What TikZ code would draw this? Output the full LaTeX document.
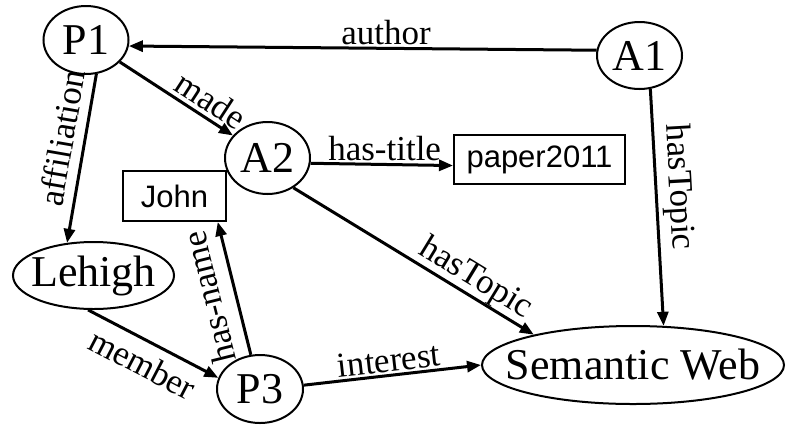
\documentclass[tikz,border=0pt]{standalone}
\usepackage{fontspec}
\setmainfont{Liberation Serif}
\newfontfamily\boxfont{Liberation Sans}
\usetikzlibrary{shapes.geometric,arrows.meta}

\begin{document}
\begin{tikzpicture}[x=1pt,y=1pt,
  ent/.style={draw,ellipse,line width=2pt,inner sep=0pt,inner xsep=-40pt,font=\fontsize{44}{44}\selectfont},
  lit/.style={draw,rectangle,line width=2pt,inner sep=0pt,minimum height=49pt,font=\boxfont\fontsize{31}{31}\selectfont},
  rel/.style={line width=3pt,-{Triangle[length=14pt,width=11pt]}},
  lbl/.style={font=\fontsize{35}{35}\selectfont,inner sep=2pt}]
\useasboundingbox (0,0) rectangle (786,-424);

% resources
\node[ent,minimum width=85pt,minimum height=68pt]  (p1)     at (86,-40)    {P1};
\node[ent,minimum width=85pt,minimum height=67pt]  (a1)     at (639.5,-55.5) {A1};
\node[ent,minimum width=85pt,minimum height=72pt]  (a2)     at (267.5,-158) {A2};
\node[ent,minimum width=161pt,minimum height=67pt] (lehigh) at (93.5,-275.5) {Lehigh};
\node[ent,minimum width=86pt,minimum height=68pt]  (p3)     at (260,-389)  {P3};
\node[ent,minimum width=302pt,minimum height=78pt] (sw)     at (633,-365)  {Semantic Web};

% literals
\node[lit,minimum width=103pt,minimum height=50pt] (john)  at (174.5,-196) {John};
\node[lit,minimum width=171pt]                     (paper) at (539.5,-159.5) {paper2011};

% properties
\draw[rel] (a1.173) -- (p1.-8) node[lbl,pos=.45,above] {author};
\draw[rel] (p1) -- (a2) node[lbl,pos=.72,sloped,above,inner sep=4pt] {made};
\draw[rel] (p1.-73) -- (lehigh.129) node[lbl,pos=.4,sloped,above,inner sep=9pt] {affiliation};
\draw[rel] (a2.-7) -- (paper.184) node[lbl,pos=.52,above] {has-title};
\draw[rel] (a2.-49) -- (sw.163) node[lbl,pos=.72,sloped,above,inner sep=0pt] {hasTopic};
\draw[rel] (a1.-72) -- (sw.52) node[lbl,pos=.42,sloped,above,inner sep=5pt] {hasTopic};
\draw[rel] (lehigh.-99) -- (p3.165) node[lbl,pos=.5,sloped,below,inner sep=9pt] {member};
\draw[rel] (p3.105) -- (john.-31) node[lbl,pos=.48,sloped,allow upside down,above,inner sep=13pt] {has-name};
\draw[rel] (p3.5) -- (sw.west) node[lbl,pos=.49,sloped,above] {interest};
\end{tikzpicture}
\end{document}
